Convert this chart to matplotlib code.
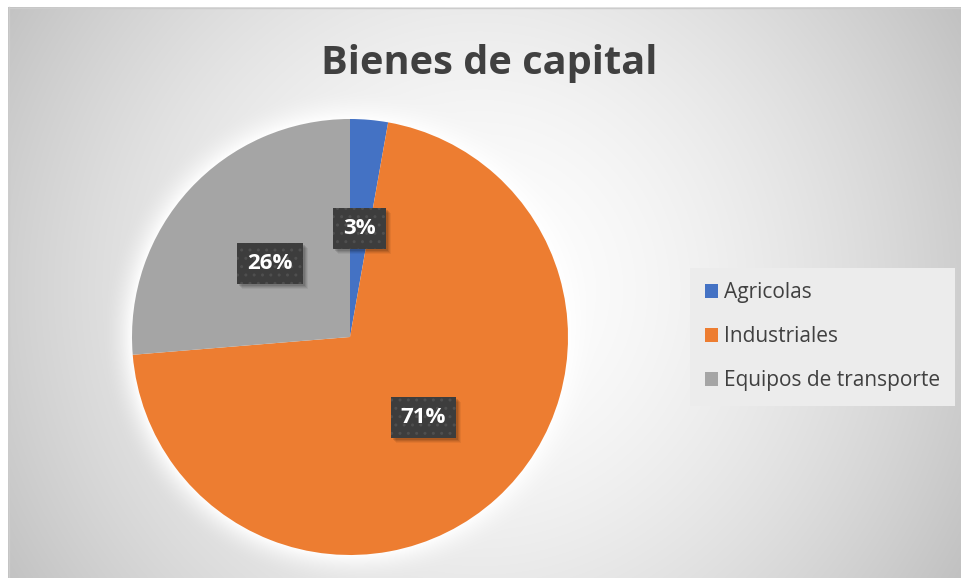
import numpy as np
import matplotlib
matplotlib.use('Agg')
import matplotlib.pyplot as plt
from matplotlib.patches import Rectangle

# ---- data ----
categories = ['Agricolas', 'Industriales', 'Equipos de transporte']
values = [2.8, 70.9, 26.3]
colors = ['#4472C4', '#ED7D31', '#A5A5A5']
title = 'Bienes de capital'

W, H = 961, 578
fig = plt.figure(figsize=(W / 100, H / 100), dpi=100)
fig.patch.set_facecolor('white')
ax = fig.add_axes([0, 0, 1, 1])

# ---- background: radial gradient with white glow around the pie ----
yy, xx = np.mgrid[0:H, 0:W] + 0.5
cx, cy = 480, 290
d = np.hypot(xx - cx, yy - cy)
v = 255 - 62 * np.clip(d / 560, 0, 1.2) ** 1.6
pcx, pcy, R = 350, 337, 218
dp = np.hypot(xx - pcx, yy - pcy)
glow = np.clip(1 - (dp - R) / 30, 0, 1) ** 2
v = v + (255 - v) * glow * 0.95
v[:7, :] = 255
v[:, :8] = 255
img = np.dstack([v, v, v]) / 255
ax.imshow(img, extent=(0, W, 0, H), origin='upper', zorder=0,
          interpolation='bilinear', aspect='auto')
ax.plot([8.5, 8.5], [0, H - 7], color='#cccccc', lw=1, zorder=1)
ax.plot([8.5, W], [H - 7.5, H - 7.5], color='#cccccc', lw=1, zorder=1)

# ---- pie ----
lbl_font = dict(fontsize=16, fontweight='bold', family='Open Sans')
wedges, texts, autotexts = ax.pie(
    values, colors=colors, startangle=90, counterclock=False,
    center=(pcx, H - pcy), radius=R,
    autopct=lambda p: f'{p:.0f}%', pctdistance=0.5,
    wedgeprops=dict(linewidth=0),
    textprops=dict(color='white', **lbl_font))
for w in wedges:
    w.set_zorder(2)
for t in autotexts:
    t.set_zorder(5)
    t.set_bbox(dict(boxstyle='square,pad=0.45', fc='#3d3d3d', ec='#4f4f4f',
                    hatch='..', lw=0))

ax.set_xlim(0, W)
ax.set_ylim(0, H)
ax.set_aspect('auto')
ax.axis('off')

# soft shadows under the label boxes
fig.canvas.draw()
inv = ax.transData.inverted()
for t in autotexts:
    bb = t.get_bbox_patch().get_window_extent()
    (x0, y0), (x1, y1) = inv.transform([[bb.x0, bb.y0], [bb.x1, bb.y1]])
    for o, a in [(5, 0.05), (4, 0.07), (3, 0.09), (2, 0.11)]:
        ax.add_patch(Rectangle((x0 + o, y0 - o), x1 - x0, y1 - y0,
                               fc=(0, 0, 0, a), lw=0, zorder=4))

# ---- title ----
fig.text(489 / W, 1 - 74 / H, title, ha='center', va='baseline',
         fontsize=28.6, fontweight='bold', color='#404040', family='Open Sans')

# ---- legend ----
leg = ax.legend(wedges, categories, loc='center left',
                bbox_to_anchor=(690 / W, 1 - 336.5 / H),
                bbox_transform=fig.transFigure, frameon=True,
                facecolor='#ececec', edgecolor='none', framealpha=1,
                fancybox=False, prop=dict(family='Open Sans', size=15),
                labelcolor='#404040', handlelength=0.65, handleheight=0.65,
                handletextpad=0.3, labelspacing=1.1, borderpad=0.7,
                borderaxespad=0)
leg.set_zorder(6)

fig.savefig('out.png', dpi=100)
